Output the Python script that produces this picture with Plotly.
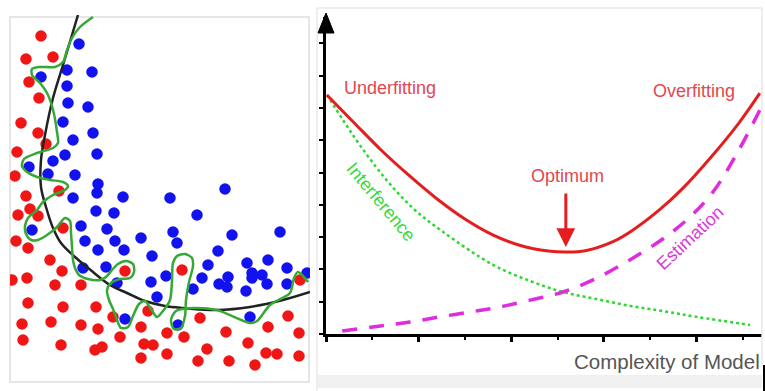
import plotly.graph_objects as go

# ---------------- Left panel: classification example (pixel-like data units) ----------------
red_x = [41, 26, 53, 29, 39, 21, 38, 46, 17, 15, 26, 59,
         18, 30, 38, 16, 28, 63, 50, 62, 27, 55, 81, 12, 28, 63, 96, 22, 51, 81, 98, 113,
         23, 61, 120, 141, 95, 102, 144, 153, 141, 125, 148,
         182, 300, 200, 288, 167, 184, 226, 268, 299, 248, 167, 207, 266, 277, 299, 198, 229, 255]
red_y = [36, 59, 57, 82, 98, 123, 133, 144, 152, 176, 196, 191,
         215, 209, 216, 241, 248, 228, 260, 271, 278, 285, 285, 280, 303, 307, 307, 324, 322, 325, 329, 317,
         340, 345, 337, 327, 350, 347, 344, 345, 358, 271, 311,
         270, 280, 318, 316, 333, 337, 332, 327, 333, 343, 354, 349, 353, 354, 356, 361, 361, 365]

blue_x = [79, 67, 92, 41, 67, 68, 88, 63, 93, 73, 65, 97, 53, 29, 48, 75, 98, 97, 73, 123,
          96, 114, 32, 81, 107, 85, 115, 141, 98, 124, 152, 83, 106, 117, 151, 157, 125,
          170, 225, 197, 173, 177, 232, 280, 218, 247, 268, 208, 287, 166, 202, 228, 252, 262,
          219, 227, 252, 267, 287, 193, 246, 250, 178, 307]
blue_y = [44, 70, 72, 77, 86, 103, 107, 122, 133, 140, 155, 154, 161, 167, 174, 175, 184, 193, 198, 197,
          211, 213, 230, 226, 229, 241, 241, 238, 250, 250, 256, 268, 267, 283, 282, 297, 319,
          198, 189, 215, 232, 243, 235, 232, 251, 263, 260, 265, 268, 276, 278, 277, 273, 275,
          284, 287, 278, 284, 284, 289, 291, 317, 325, 273]

boundary_x = [78, 72, 63, 53, 45, 41, 41, 46, 53, 61, 75, 93, 110, 127, 145, 165, 183, 217, 250, 283, 310]
boundary_y = [15, 35, 65, 98, 135, 160, 187, 207, 228, 243, 257, 272, 285, 293, 301, 306, 308, 310, 307, 300, 292]

overfit_x = [93, 80, 72, 67, 63, 55, 40, 32, 32, 40, 47, 52, 55, 57, 58, 53, 37, 24, 22, 27, 37, 50, 63, 68,
             65, 53, 43, 37, 28, 25, 26, 31, 38, 47, 57, 65, 70, 71, 72, 73, 75, 79, 88, 100, 106, 112,
             118, 126, 133, 134, 130, 120, 111, 107, 109, 113, 117, 121, 128, 133, 139, 145, 151, 157,
             163, 170, 172, 173, 177, 185, 192, 193, 189, 186, 185, 181, 174, 171, 176, 193, 217, 250,
             257, 270, 290, 294, 298, 303, 308]
overfit_y = [17, 27, 38, 50, 62, 67, 67, 69, 75, 83, 93, 106, 119, 132, 143, 148, 153, 159, 166, 172, 177,
             180, 182, 186, 190, 195, 202, 210, 218, 226, 234, 240, 240, 235, 227, 218, 221, 233, 247,
             260, 268, 275, 279, 280, 277, 270, 264, 261, 264, 272, 278, 279, 283, 290, 300, 309, 320,
             328, 327, 316, 304, 301, 309, 317, 311, 300, 280, 263, 256, 254, 258, 266, 282, 300, 316,
             328, 329, 320, 311, 308, 310, 323, 321, 305, 293, 278, 272, 276, 282]

# ---------------- Right panel: error vs. model complexity ----------------
total_x = [0.02, 0.6, 1.2, 1.8, 2.4, 3.0, 3.6, 4.2, 4.8, 5.2, 5.6, 6.2, 6.6, 7.2, 7.7, 8.3, 8.9, 9.37]
total_y = [7.40, 6.55, 5.68, 4.90, 4.18, 3.56, 3.07, 2.74, 2.57, 2.54, 2.58, 2.86, 3.19, 3.84, 4.50, 5.45, 6.50, 7.46]

interference_x = [0.02, 0.37, 0.73, 1.34, 1.92, 2.53, 3.61, 4.41, 5.12, 5.85, 6.57, 7.28, 8.01, 9.16]
interference_y = [7.40, 6.62, 5.85, 4.71, 3.84, 3.16, 2.14, 1.64, 1.30, 1.08, 0.87, 0.71, 0.53, 0.28]

estimation_x = [0.35, 1.17, 1.81, 2.46, 3.11, 3.76, 4.41, 5.12, 5.85, 6.57, 7.28, 7.86, 8.36, 8.88, 9.37]
estimation_y = [0.09, 0.25, 0.37, 0.53, 0.68, 0.84, 1.05, 1.30, 1.73, 2.30, 2.95, 3.62, 4.40, 5.60, 6.93]

optimum_x = 5.18
optimum_y = 2.69

labels = ["Underfitting", "Overfitting", "Optimum", "Interference", "Estimation", "Complexity of Model"]

W, H = 765, 391


def PX(x):
    return x / W


def PY(y):
    return 1 - y / H


fig = go.Figure()

fig.add_trace(go.Scatter(x=red_x, y=red_y, mode="markers", xaxis="x", yaxis="y",
                         marker=dict(size=11.5, color="#f01616"), hoverinfo="skip"))
fig.add_trace(go.Scatter(x=blue_x, y=blue_y, mode="markers", xaxis="x", yaxis="y",
                         marker=dict(size=11.5, color="#1212ee"), hoverinfo="skip"))
fig.add_trace(go.Scatter(x=boundary_x, y=boundary_y, mode="lines", xaxis="x", yaxis="y",
                         line=dict(color="#222222", width=2.5, shape="spline", smoothing=1),
                         hoverinfo="skip"))
fig.add_trace(go.Scatter(x=overfit_x, y=overfit_y, mode="lines", xaxis="x", yaxis="y",
                         line=dict(color="#36a836", width=2.5, shape="spline", smoothing=0.8),
                         hoverinfo="skip"))

fig.add_trace(go.Scatter(x=interference_x, y=interference_y, mode="lines", xaxis="x2", yaxis="y2",
                         line=dict(color="#2ed82e", width=2.5, dash="dot", shape="spline"),
                         hoverinfo="skip"))
fig.add_trace(go.Scatter(x=estimation_x, y=estimation_y, mode="lines", xaxis="x2", yaxis="y2",
                         line=dict(color="#dd2ddd", width=3.5, dash="15px,12px", shape="spline"),
                         hoverinfo="skip"))
fig.add_trace(go.Scatter(x=total_x, y=total_y, mode="lines", xaxis="x2", yaxis="y2",
                         line=dict(color="#e41e1e", width=3, shape="spline"),
                         hoverinfo="skip"))

shapes = [
    # left panel frame
    dict(type="rect", xref="paper", yref="paper", x0=PX(10), x1=PX(309), y0=PY(382), y1=PY(17),
         line=dict(color="#e6e6e6", width=2), layer="below"),
    # right panel frame parts
    dict(type="line", xref="paper", yref="paper", x0=PX(317), x1=PX(762), y0=PY(8), y1=PY(8),
         line=dict(color="#e8e8e8", width=1.5)),
    dict(type="line", xref="paper", yref="paper", x0=PX(317), x1=PX(317), y0=PY(8), y1=PY(391),
         line=dict(color="#e8e8e8", width=1.5)),
    dict(type="line", xref="paper", yref="paper", x0=PX(762), x1=PX(762), y0=PY(8), y1=PY(365),
         line=dict(color="#e8e8e8", width=1.5)),
    dict(type="rect", xref="paper", yref="paper", x0=PX(318), x1=PX(762), y0=PY(388), y1=PY(375),
         fillcolor="#f0f0f0", line=dict(width=0), layer="below"),
    dict(type="line", xref="paper", yref="paper", x0=PX(764), x1=PX(764), y0=PY(365), y1=PY(391),
         line=dict(color="#000000", width=2)),
    # y-axis arrow head
    dict(type="path", xref="paper", yref="paper",
         path=f"M {PX(318)},{PY(33)} L {PX(326)},{PY(13)} L {PX(334)},{PY(33)} Z",
         fillcolor="#000000", line=dict(color="#000000", width=1)),
]

txt_red = "#e2474f"
font_family = "Liberation Sans, Arial, sans-serif"
annotations = [
    dict(text=labels[0], x=PX(390), y=PY(88), xref="paper", yref="paper", showarrow=False,
         xanchor="center", yanchor="middle", font=dict(family=font_family, size=18, color=txt_red)),
    dict(text=labels[1], x=PX(694), y=PY(91), xref="paper", yref="paper", showarrow=False,
         xanchor="center", yanchor="middle", font=dict(family=font_family, size=18, color=txt_red)),
    dict(text=labels[2], x=PX(567), y=PY(176), xref="paper", yref="paper", showarrow=False,
         xanchor="center", yanchor="middle", font=dict(family=font_family, size=18, color=txt_red)),
    dict(text=labels[3], x=PX(381), y=PY(202), xref="paper", yref="paper", showarrow=False,
         textangle=50, xanchor="center", yanchor="middle",
         font=dict(family=font_family, size=18, color="#3ad83a")),
    dict(text=labels[4], x=PX(690), y=PY(238), xref="paper", yref="paper", showarrow=False,
         textangle=-43, xanchor="center", yanchor="middle",
         font=dict(family=font_family, size=18, color="#d83ad8")),
    dict(text=labels[5], x=PX(667), y=PY(361), xref="paper", yref="paper", showarrow=False,
         xanchor="center", yanchor="middle", font=dict(family=font_family, size=20.5, color="#555555")),
    # optimum arrow
    dict(text="", x=optimum_x, y=optimum_y, xref="x2", yref="y2", ax=0, ay=-55,
         showarrow=True, arrowhead=2, arrowsize=1.25, arrowwidth=3, arrowcolor="#e41e1e", standoff=0),
]

fig.update_layout(
    width=W, height=H, autosize=False,
    margin=dict(l=0, r=0, t=0, b=0, pad=0),
    paper_bgcolor="white", plot_bgcolor="white",
    showlegend=False,
    xaxis=dict(domain=[PX(10), PX(310)], range=[10, 310], visible=False, fixedrange=True),
    yaxis=dict(domain=[PY(383), PY(15)], range=[383, 15], visible=False, fixedrange=True),
    xaxis2=dict(domain=[PX(326), PX(762)], range=[0, 9.417], anchor="y2",
                showline=True, linecolor="black", linewidth=2.5, showgrid=False, zeroline=False,
                showticklabels=False, ticks="outside", tick0=0, dtick=2, ticklen=5, tickwidth=2.5,
                tickcolor="black",
                minor=dict(dtick=1, tick0=0, ticks="outside", ticklen=3, tickwidth=1.5, tickcolor="black"),
                fixedrange=True),
    yaxis2=dict(domain=[PY(334), PY(17)], range=[0, 9.814], anchor="x2",
                showline=True, linecolor="black", linewidth=2.5, showgrid=False, zeroline=False,
                showticklabels=False, ticks="outside", tick0=0, dtick=1, ticklen=4, tickwidth=2,
                tickcolor="black", fixedrange=True),
    shapes=shapes,
    annotations=annotations,
)

fig.write_html("out.html", config={"displayModeBar": False},
               post_script="document.body.style.margin='0';document.body.style.overflow='hidden';")
